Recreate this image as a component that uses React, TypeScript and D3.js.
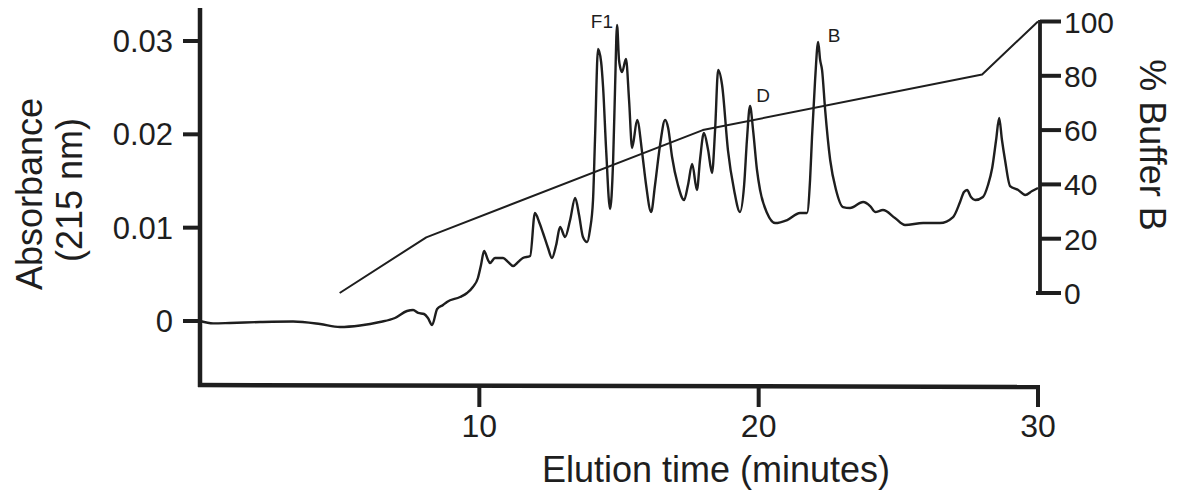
import React from "react";
import * as d3 from "d3";

// Absorbance trace (time in minutes, absorbance at 215 nm)
const traceTime = [
  0, 0.47, 1.07, 2.15, 3.33, 4.3, 5.01, 5.73, 6.44, 6.98, 7.41, 7.63, 7.81, 8.02, 8.16, 8.31, 8.49, 8.7, 8.84,
  9.31, 9.56, 9.77, 9.95, 10.06, 10.17, 10.31, 10.38, 10.56, 10.85, 11.03, 11.21, 11.39, 11.56, 11.82, 11.99,
  12.14, 12.28, 12.46, 12.6, 12.75, 12.89, 13.07, 13.25, 13.43, 13.57, 13.71, 13.86, 13.96, 14.07, 14.14, 14.25,
  14.36, 14.43, 14.54, 14.68, 14.79, 14.86, 14.93, 15.0, 15.04, 15.11, 15.25, 15.36, 15.47, 15.65, 15.83, 15.97,
  16.15, 16.29, 16.47, 16.65, 16.76, 16.9, 17.11, 17.33, 17.47, 17.62, 17.79, 17.9, 18.04, 18.19, 18.33, 18.44,
  18.55, 18.69, 18.9, 19.12, 19.33, 19.48, 19.58, 19.69, 19.8, 19.94, 20.05, 20.3, 20.59, 21.02, 21.48, 21.73,
  21.84, 21.91, 22.02, 22.13, 22.2, 22.27, 22.38, 22.56, 22.77, 23.02, 23.27, 23.74, 23.99, 24.17, 24.45, 24.88,
  25.24, 25.89, 26.49, 26.96, 27.21, 27.35, 27.46, 27.6, 27.75, 28.03, 28.21, 28.36, 28.5, 28.61, 28.71, 28.82,
  29.0, 29.29, 29.54, 29.79, 30.0,
];
const traceAbs = [
  0, -0.00025, -0.00021, -0.00011, -0.00005, -0.00032, -0.00064, -0.00048, -0.00011, 0.00032, 0.00107, 0.00118,
  0.00086, 0.00075, 0.00032, -0.00043, 0.00129, 0.00171, 0.00204, 0.00257, 0.003, 0.00364, 0.00461, 0.006,
  0.0075, 0.00654, 0.00621, 0.00675, 0.00675, 0.00632, 0.00589, 0.00632, 0.00675, 0.00696, 0.01157, 0.01061,
  0.00943, 0.00782, 0.00675, 0.00814, 0.01007, 0.009, 0.01082, 0.01318, 0.01136, 0.009, 0.00846, 0.00975,
  0.01296, 0.01939, 0.02914, 0.02775, 0.02507, 0.01832, 0.012, 0.01725, 0.02507, 0.03172, 0.02797, 0.02722,
  0.02668, 0.02807, 0.02368, 0.01854, 0.02154, 0.018, 0.01457, 0.01168, 0.01457, 0.01886, 0.02154, 0.02068,
  0.01757, 0.01457, 0.01296, 0.01457, 0.01682, 0.01404, 0.01725, 0.02014, 0.01832, 0.01586, 0.02046, 0.02689,
  0.02529, 0.01832, 0.01404, 0.01168, 0.01457, 0.01939, 0.02304, 0.02046, 0.01618, 0.01404, 0.01157, 0.0105,
  0.01082, 0.01157, 0.01157, 0.01511, 0.01971, 0.02582, 0.02989, 0.02797, 0.02689, 0.02261, 0.01725, 0.01404,
  0.01221, 0.01211, 0.01275, 0.01232, 0.01168, 0.01189, 0.01104, 0.01029, 0.0105, 0.0105, 0.01114, 0.01275,
  0.01382, 0.01404, 0.01329, 0.01296, 0.01329, 0.01457, 0.01639, 0.01939, 0.02175, 0.01939, 0.01725, 0.01446,
  0.01404, 0.0135, 0.01393, 0.01425,
];

// Gradient programme (% Buffer B)
const gradTime = [5, 8.1, 18, 28, 30];
const gradB = [0, 20.5, 60, 80.5, 100];

const xTicks = [10, 20, 30];
const leftTicks = [0, 0.01, 0.02, 0.03];
const leftTickLabels = ["0", "0.01", "0.02", "0.03"];
const rightTicks = [0, 20, 40, 60, 80, 100];

const peakLabels = [
  { text: "F1", t: 14.39, a: 0.0314 },
  { text: "D", t: 20.16, a: 0.02347 },
  { text: "B", t: 22.7, a: 0.0299 },
];

const INK = "#1e1e1e";
const FONT = "'Liberation Sans', Arial, Helvetica, sans-serif";

export default function App() {
  const x = d3.scaleLinear().domain([0, 30]).range([200, 1038]);
  const yL = d3.scaleLinear().domain([0, 0.03]).range([321, 41]);
  const yR = d3.scaleLinear().domain([0, 100]).range([293, 21.5]);

  const trace = traceTime.map((t, i) => [t, traceAbs[i]] as [number, number]);
  const grad = gradTime.map((t, i) => [t, gradB[i]] as [number, number]);

  const traceLine = d3
    .line<[number, number]>()
    .x((d) => x(d[0]))
    .y((d) => yL(d[1]))
    .curve(d3.curveMonotoneX);
  const gradLine = d3
    .line<[number, number]>()
    .x((d) => x(d[0]))
    .y((d) => yR(d[1]));

  const axisBottomY = 385;
  const axisTopY = 8;

  return (
    <svg
      width={1180}
      height={497}
      style={{ position: "absolute", left: 0, top: 0, background: "#fff" }}
      fontFamily={FONT}
    >
      <rect width={1180} height={497} fill="#fff" />
      {/* data */}
      <path d={gradLine(grad) || ""} fill="none" stroke={INK} strokeWidth={2} strokeLinejoin="round" />
      <path d={traceLine(trace) || ""} fill="none" stroke={INK} strokeWidth={2.4} strokeLinejoin="round" />

      {/* left axis */}
      <line x1={x(0)} x2={x(0)} y1={axisTopY} y2={axisBottomY + 2} stroke={INK} strokeWidth={4.5} />
      {leftTicks.map((v, i) => (
        <g key={"l" + v}>
          <line x1={183} x2={x(0)} y1={yL(v)} y2={yL(v)} stroke={INK} strokeWidth={4} />
          <text x={173} y={yL(v) + 11} fontSize={31} textAnchor="end" fill={INK}>
            {leftTickLabels[i]}
          </text>
        </g>
      ))}

      {/* bottom axis */}
      <line x1={x(0) - 2} x2={x(30) + 2} y1={axisBottomY} y2={axisBottomY + 2} stroke={INK} strokeWidth={4.5} />
      {xTicks.map((v) => (
        <g key={"b" + v}>
          <line x1={x(v)} x2={x(v)} y1={axisBottomY} y2={407} stroke={INK} strokeWidth={4} />
          <text x={x(v)} y={437} fontSize={32} textAnchor="middle" fill={INK}>
            {v}
          </text>
        </g>
      ))}

      {/* right axis */}
      <line x1={1040} x2={1040} y1={yR(100) - 1.5} y2={yR(0) + 1.5} stroke={INK} strokeWidth={3.8} />
      {rightTicks.map((v) => (
        <g key={"r" + v}>
          <line x1={v === 0 ? 1036 : 1040} x2={1061} y1={yR(v)} y2={yR(v)} stroke={INK} strokeWidth={4} />
          <text x={1064} y={yR(v) + 11} fontSize={30} textAnchor="start" fill={INK}>
            {v}
          </text>
        </g>
      ))}

      {/* peak labels */}
      {peakLabels.map((p) => (
        <text key={p.text} x={x(p.t)} y={yL(p.a)} fontSize={19} textAnchor="middle" fill={INK}>
          {p.text}
        </text>
      ))}

      {/* axis titles */}
      <text transform="translate(42,194) rotate(-90)" fontSize={36} textAnchor="middle" fill={INK}>
        Absorbance
      </text>
      <text transform="translate(82,190) rotate(-90)" fontSize={36} textAnchor="middle" fill={INK}>
        (215 nm)
      </text>
      <text transform="translate(1140,145) rotate(90)" fontSize={36} textAnchor="middle" fill={INK}>
        % Buffer B
      </text>
      <text x={716} y={482} fontSize={36} textAnchor="middle" fill={INK}>
        Elution time (minutes)
      </text>
    </svg>
  );
}
